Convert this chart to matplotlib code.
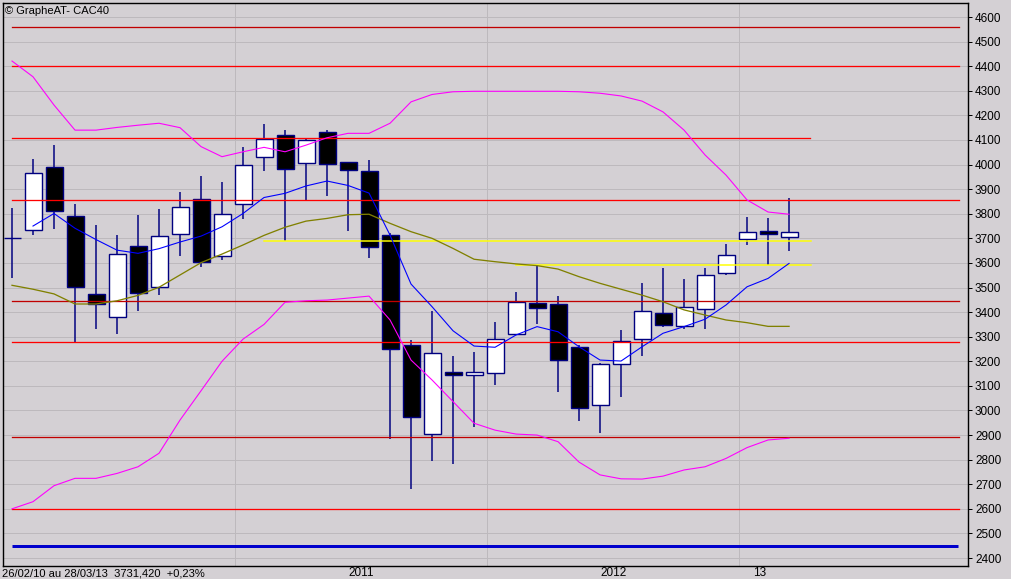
import matplotlib
matplotlib.use("Agg")
import matplotlib.pyplot as plt
from matplotlib.patches import Rectangle
from matplotlib.transforms import blended_transform_factory

# ---------------- data (monthly CAC40, Feb 2010 .. Mar 2013) ----------------
opens = [3703, 3733, 3990, 3789, 3472, 3379, 3667, 3501, 3716, 3859,
         3627, 3840, 4029, 4119, 4005, 4131, 4009, 3972, 3712, 3265,
         2903, 3156, 3146, 3151, 3310, 3437, 3432, 3257, 3021, 3188,
         3289, 3395, 3342, 3411, 3558, 3696, 3728, 3704]
highs = [3823, 4022, 4079, 3840, 3754, 3713, 3795, 3819, 3888, 3953,
         3929, 4071, 4165, 4140, 4105, 4140, 4012, 4018, 3720, 3287,
         3404, 3221, 3238, 3360, 3482, 3590, 3465, 3265, 3192, 3327,
         3518, 3578, 3535, 3578, 3677, 3787, 3781, 3864]
lows = [3539, 3715, 3739, 3277, 3332, 3312, 3406, 3471, 3629, 3582,
        3610, 3780, 3975, 3690, 3856, 3873, 3731, 3621, 2883, 2682,
        2796, 2783, 2931, 3105, 3305, 3353, 3076, 2957, 2910, 3056,
        3223, 3340, 3330, 3332, 3552, 3672, 3593, 3650]
closes = [3700, 3964, 3810, 3502, 3434, 3635, 3479, 3708, 3826, 3602,
          3798, 3997, 4103, 3981, 4098, 4001, 3976, 3663, 3249, 2972,
          3232, 3146, 3156, 3289, 3442, 3415, 3204, 3009, 3188, 3281,
          3403, 3346, 3419, 3550, 3631, 3724, 3716, 3724]

# short moving average (starts at 2nd candle)
ma_short = [3750, 3801, 3741, 3695, 3652, 3639, 3658, 3685, 3709, 3747,
            3801, 3866, 3883, 3913, 3933, 3915, 3884, 3713, 3514, 3422,
            3324, 3262, 3257, 3307, 3341, 3320, 3259, 3205, 3201, 3259,
            3314, 3341, 3371, 3429, 3503, 3537, 3598]
# long moving average
ma_long = [3509, 3493, 3474, 3433, 3433, 3446, 3468, 3501, 3551, 3601,
           3636, 3673, 3712, 3745, 3770, 3781, 3796, 3798, 3761, 3727,
           3700, 3659, 3615, 3605, 3596, 3589, 3575, 3544, 3517, 3493,
           3469, 3442, 3409, 3388, 3368, 3357, 3342, 3342]
# Bollinger bands
band_up = [4421, 4357, 4242, 4140, 4140, 4151, 4160, 4168, 4150, 4073,
           4032, 4052, 4070, 4052, 4079, 4109, 4127, 4127, 4168, 4255,
           4285, 4296, 4298, 4298, 4298, 4298, 4298, 4296, 4290, 4279,
           4258, 4214, 4140, 4039, 3957, 3856, 3807, 3798]
band_low = [2600, 2629, 2694, 2724, 2724, 2744, 2771, 2826, 2961, 3080,
            3200, 3290, 3350, 3440, 3446, 3449, 3457, 3465, 3368, 3205,
            3124, 3036, 2948, 2920, 2904, 2900, 2873, 2790, 2738, 2722,
            2721, 2733, 2758, 2771, 2805, 2849, 2880, 2887]

# horizontal levels
red_levels = [4559, 4400, 4108, 3856, 3445, 3278, 2892, 2600]
red_ends = [45.1, 45.1, 38.0, 45.1, 45.1, 45.1, 45.1, 45.1]
red_colors = ['#c00000', '#ff0000', '#ff0000', '#ff0000', '#c00000',
              '#ff0000', '#c00000', '#ff0000']
yellow_levels = [3690, 3592]
yellow_starts = [12, 24]
blue_level = 2447

y_ticks = list(range(2400, 4700, 100))
year_labels = ['2011', '2012', '13']
year_label_pos = [16.62, 28.62, 35.62]
year_grid = [10.62, 22.62, 34.62]

title_text = '\u00a9 GrapheAT- CAC40'
info_text = '26/02/10 au 28/03/13  3731,420  +0,23%'

# ---------------- figure ----------------
BG = '#d4d0d4'
W, H = 1012, 579
fig = plt.figure(figsize=(W / 100, H / 100), dpi=100, facecolor=BG)
ax = fig.add_axes([3 / W, (H - 566) / H, 965 / W, 563 / H], facecolor=BG)

ax.set_xlim(-0.4286, 45.52)
ax.set_ylim(2367.5, 4657)

PX = 0.72  # one pixel in points

for v in y_ticks:
    ax.axhline(v, color='#bdb9bd', lw=PX, zorder=1)
for g in year_grid:
    ax.axvline(g, color='#bdb9bd', lw=PX, zorder=1)

# candles
n = len(opens)
bw = 17 / 21
for i in range(n):
    o, h, l, c = opens[i], highs[i], lows[i], closes[i]
    ax.plot([i, i], [l, h], color='#000080', lw=1.5 * PX, zorder=3,
            solid_capstyle='butt')
    lo, hi = min(o, c), max(o, c)
    fill = 'white' if c > o else 'black'
    ax.add_patch(Rectangle((i - bw / 2, lo), bw, max(hi - lo, 1),
                           facecolor=fill, edgecolor='#000080',
                           lw=1.4 * PX, zorder=4))

# level lines
for v, e, col in zip(red_levels, red_ends, red_colors):
    ax.plot([0, e], [v, v], color=col, lw=1.3 * PX, zorder=5)
for v, s in zip(yellow_levels, yellow_starts):
    ax.plot([s, 38.05], [v, v], color='#ffff00', lw=1.5 * PX, zorder=5)
ax.plot([0, 45.05], [blue_level, blue_level], color='#0000cc', lw=3 * PX,
        zorder=5, solid_capstyle='butt')

# indicators
xs = list(range(n))
ax.plot(xs, band_up, color='#ff00ff', lw=1.1 * PX, zorder=6)
ax.plot(xs, band_low, color='#ff00ff', lw=1.1 * PX, zorder=6)
ax.plot(xs, ma_long, color='#808000', lw=1.3 * PX, zorder=6)
ax.plot(xs[1:], ma_short, color='#0000ff', lw=1.1 * PX, zorder=6)

# axes styling
for sp in ax.spines.values():
    sp.set_color('black')
    sp.set_linewidth(1.4 * PX)
ax.set_xticks([])
ax.yaxis.tick_right()
ax.set_yticks(y_ticks)
ax.set_yticklabels([str(v) for v in y_ticks], fontsize=8.5,
                   family='Liberation Sans')
ax.tick_params(axis='y', length=3, width=PX, pad=2, colors='black')

trans = blended_transform_factory(ax.transData, fig.transFigure)
for lab, p in zip(year_labels, year_label_pos):
    ax.text(p, (H - 573) / H, lab, transform=trans, ha='center', va='center',
            fontsize=8.5, family='Liberation Sans', color='black')

fig.text(2 / W, (H - 573) / H, info_text, ha='left', va='center',
         fontsize=8, family='Liberation Sans', color='black')
fig.text(5 / W, (H - 11) / H, title_text, ha='left', va='center',
         fontsize=8, family='Liberation Sans', color='black', zorder=10)

fig.savefig('out.png', dpi=100, facecolor=BG)
